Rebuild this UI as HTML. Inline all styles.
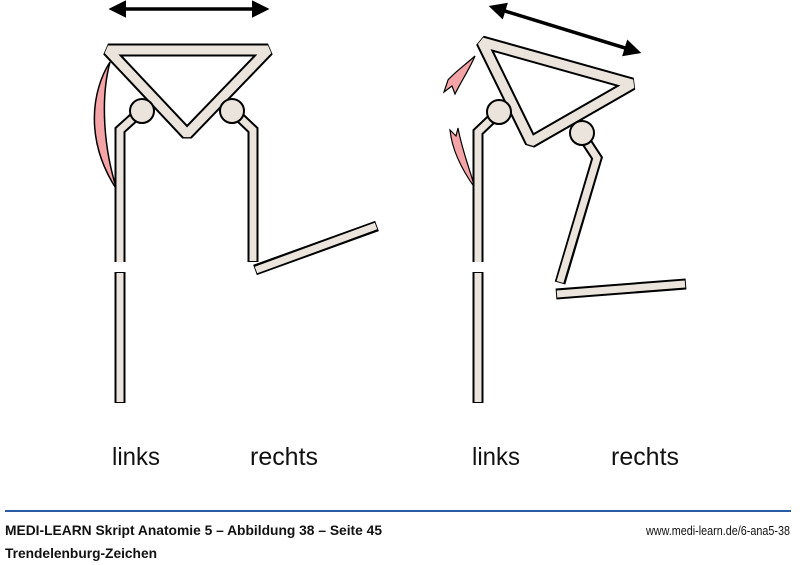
<!DOCTYPE html>
<html><head><meta charset="utf-8"><style>
html,body{margin:0;padding:0;background:#fff;}
svg{display:block;}
</style></head><body>
<svg width="800" height="565" viewBox="0 0 800 565" xmlns="http://www.w3.org/2000/svg">
<defs>
<marker id="ah" viewBox="0 0 10 10" refX="8" refY="5" markerWidth="5" markerHeight="5" orient="auto-start-reverse" markerUnits="strokeWidth"><path d="M0,0 L10,5 L0,10 z" fill="#000"/></marker>
</defs>
<g fill="none" stroke-linejoin="miter" stroke-linecap="butt">
<line x1="112" y1="9" x2="266" y2="9" stroke="#000" stroke-width="3.5" marker-start="url(#ah)" marker-end="url(#ah)"/>
<line x1="492" y1="7" x2="638" y2="52" stroke="#000" stroke-width="3.5" marker-start="url(#ah)" marker-end="url(#ah)"/>

<path d="M110,62 C92,90 84,140 117,190 C104,150 100,100 110,62 Z" fill="#f4a3a6" stroke="#000" stroke-width="1.5"/>
<g stroke="#000" stroke-width="11">
<path d="M141,111 L120,130 L120,262"/>
<line x1="120" y1="272" x2="120" y2="403"/>
<path d="M233,111 L253,130 L253,262"/>
<line x1="255" y1="270" x2="377" y2="226"/>
</g>
<g stroke="#ebe4dc" stroke-width="7">
<path d="M141,111 L120,130 L120,262"/>
<line x1="120" y1="273" x2="120" y2="402"/>
<path d="M233,111 L253,130 L253,261"/>
<line x1="256" y1="270" x2="376" y2="226"/>
</g>
<path d="M108,50 L268,50 L187,134 Z" stroke="#000" stroke-width="13" stroke-linejoin="bevel"/>
<path d="M108,50 L268,50 L187,134 Z" stroke="#ebe4dc" stroke-width="9" stroke-linejoin="bevel"/>
<circle cx="142" cy="111" r="12" fill="#ebe4dc" stroke="#000" stroke-width="2"/>
<circle cx="232" cy="111" r="12" fill="#ebe4dc" stroke="#000" stroke-width="2"/>

<path d="M475,56 C465,65 455,72 448,80 L444,92 L452,86 L455,94 C462,80 470,68 475,56 Z" fill="#f4a3a6" stroke="#000" stroke-width="1.2"/>
<path d="M450,130 L456,136 L458,128 C462,150 470,170 475,188 C462,170 452,150 450,130 Z" fill="#f4a3a6" stroke="#000" stroke-width="1.2"/>
<g stroke="#000" stroke-width="11">
<path d="M499,112 L478,132 L478,262"/>
<line x1="478" y1="272" x2="478" y2="403"/>
<path d="M580,132 L597,158 L560,283"/>
<line x1="556" y1="294" x2="686" y2="284"/>
</g>
<g stroke="#ebe4dc" stroke-width="7">
<path d="M499,112 L478,132 L478,262"/>
<line x1="478" y1="273" x2="478" y2="402"/>
<path d="M580,132 L597,158 L560,282"/>
<line x1="557" y1="294" x2="685" y2="284"/>
</g>
<path d="M482,42 L632,84 L531,142 Z" stroke="#000" stroke-width="13" stroke-linejoin="bevel"/>
<path d="M482,42 L632,84 L531,142 Z" stroke="#ebe4dc" stroke-width="9" stroke-linejoin="bevel"/>
<circle cx="499" cy="112" r="12" fill="#ebe4dc" stroke="#000" stroke-width="2"/>
<circle cx="582" cy="133" r="12" fill="#ebe4dc" stroke="#000" stroke-width="2"/>
</g>

<g font-family="'Liberation Sans Narrow','Liberation Sans',sans-serif" font-size="25" fill="#111">
<text x="112" y="465" textLength="48" lengthAdjust="spacingAndGlyphs">links</text>
<text x="250" y="465" textLength="68" lengthAdjust="spacingAndGlyphs">rechts</text>
<text x="472" y="465" textLength="48" lengthAdjust="spacingAndGlyphs">links</text>
<text x="611" y="465" textLength="68" lengthAdjust="spacingAndGlyphs">rechts</text>
</g>
<rect x="5" y="510" width="786" height="2" fill="#2a5ca6"/>
<g font-family="'Liberation Sans Narrow','Liberation Sans',sans-serif" fill="#111">
<text x="5" y="535" font-size="14" font-weight="bold" textLength="377" lengthAdjust="spacingAndGlyphs">MEDI-LEARN Skript Anatomie 5 – Abbildung 38 – Seite 45</text>
<text x="5" y="558" font-size="14" font-weight="bold" textLength="152" lengthAdjust="spacingAndGlyphs">Trendelenburg-Zeichen</text>
<text x="646" y="535" font-size="13" textLength="144" lengthAdjust="spacingAndGlyphs">www.medi-learn.de/6-ana5-38</text>
</g>
</svg>
</body></html>
